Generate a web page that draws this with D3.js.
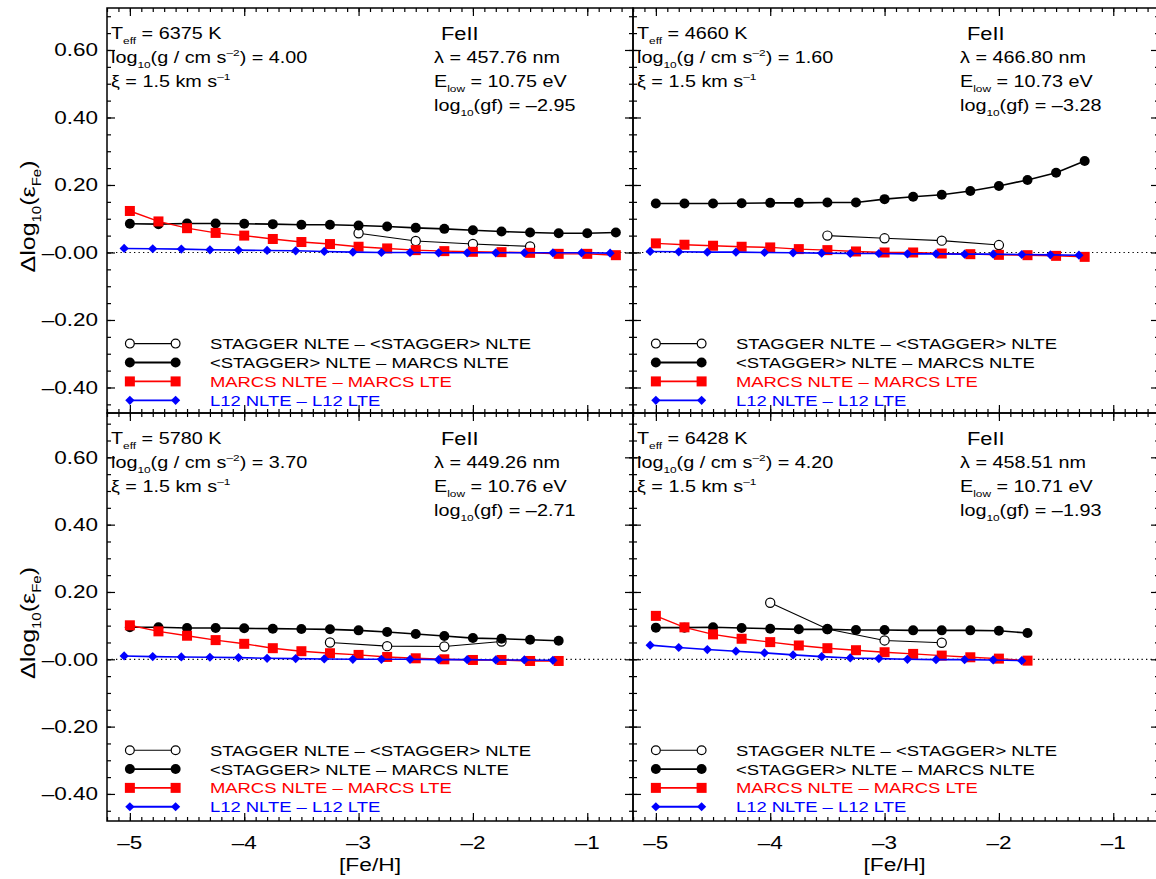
<!DOCTYPE html>
<html><head><meta charset="utf-8">
<script src="https://cdn.jsdelivr.net/npm/d3@7"></script>
<style>
body{margin:0;background:#fff}
svg{display:block}
text{font-family:"Liberation Sans",Arial,Helvetica,sans-serif}
</style>
</head><body>
<svg id="c" width="1156" height="879"></svg>
<script>
// ---------- data ----------
const fehGrid = [-5.00,-4.75,-4.50,-4.25,-4.00,-3.75,-3.50,-3.25,-3.00,-2.75,-2.50,-2.25,-2.00,-1.75,-1.50,-1.25,-1.00,-0.75];
const fehL12  = [-5.05,-4.80,-4.55,-4.30,-4.05,-3.80,-3.55,-3.30,-3.05,-2.80,-2.55,-2.30,-2.05,-1.80,-1.55,-1.30,-1.05,-0.80];

const seriesLabels = ["STAGGER NLTE \u2013 <STAGGER> NLTE","<STAGGER> NLTE \u2013 MARCS NLTE","MARCS NLTE \u2013 MARCS LTE","L12 NLTE \u2013 L12 LTE"];
const seriesColors = ["#000000","#000000","#ff0000","#0000ff"];

const teffs   = ["6375","4660","5780","6428"];
const loggs   = ["4.00","1.60","3.70","4.20"];
const lambdas = ["457.76","466.80","449.26","458.51"];
const elows   = ["10.75","10.73","10.76","10.71"];
const loggfs  = ["\u20132.95","\u20133.28","\u20132.71","\u20131.93"];

// panel A: Teff 6375
const aStaggerX = [-3.00,-2.50,-2.00,-1.50];
const aStagger  = [0.057,0.034,0.025,0.018];
const aMean  = [0.085,0.084,0.086,0.086,0.085,0.084,0.082,0.082,0.080,0.077,0.073,0.070,0.066,0.062,0.059,0.057,0.057,0.059];
const aMarcs = [0.123,0.092,0.072,0.058,0.050,0.040,0.031,0.025,0.017,0.012,0.007,0.004,0.002,0.001,-0.001,-0.004,-0.004,-0.008];
const aL12   = [0.012,0.011,0.010,0.008,0.007,0.006,0.005,0.003,0.001,0.000,0.000,-0.001,-0.001,-0.001,-0.001,-0.001,-0.001,-0.002];
// panel B: Teff 4660
const bStaggerX = [-3.50,-3.00,-2.50,-2.00];
const bStagger  = [0.050,0.042,0.035,0.022];
const bMean  = [0.145,0.145,0.145,0.146,0.147,0.147,0.148,0.148,0.158,0.165,0.171,0.182,0.197,0.215,0.236,0.271];
const bMarcs = [0.027,0.023,0.020,0.017,0.015,0.010,0.007,0.003,0.000,0.000,-0.003,-0.005,-0.007,-0.008,-0.010,-0.013];
const bL12   = [0.003,0.002,0.001,0.001,0.000,-0.001,-0.002,-0.003,-0.003,-0.004,-0.004,-0.005,-0.005,-0.006,-0.007,-0.008];
// panel C: Teff 5780
const cStaggerX = [-3.25,-2.75,-2.25,-1.75];
const cStagger  = [0.050,0.039,0.038,0.053];
const cMean  = [0.095,0.095,0.093,0.093,0.092,0.091,0.090,0.089,0.086,0.081,0.075,0.069,0.063,0.061,0.058,0.055];
const cMarcs = [0.101,0.083,0.070,0.057,0.046,0.033,0.024,0.018,0.013,0.007,0.003,0.000,-0.002,-0.002,-0.005,-0.005];
const cL12   = [0.010,0.008,0.007,0.006,0.005,0.003,0.002,0.001,0.000,0.000,0.000,-0.001,-0.001,-0.002,-0.002,-0.003];
// panel D: Teff 6428
const dStaggerX = [-4.00,-3.50,-3.00,-2.50];
const dStagger  = [0.168,0.090,0.056,0.049];
const dMean  = [0.094,0.094,0.095,0.093,0.091,0.089,0.089,0.087,0.087,0.086,0.086,0.086,0.085,0.078];
const dMarcs = [0.129,0.095,0.074,0.061,0.051,0.041,0.033,0.027,0.021,0.016,0.011,0.006,0.002,-0.004];
const dL12   = [0.042,0.035,0.029,0.024,0.019,0.013,0.008,0.004,0.002,0.000,-0.001,-0.001,-0.002,-0.004];

const xTickValues = [-5,-4,-3,-2,-1];
const yTickValues = [0.6,0.4,0.2,0,-0.2,-0.4];
const legendY = [-0.27,-0.326,-0.382,-0.438];

// ---------- layout ----------
const svg = d3.select("#c");
const SX = 1.2; // horizontal stretch of the glyphs
const panels = [
  {i:0, x0:107, x1:633,  y0:8,   y1:413, yd:[-0.4756,0.7244], sX:aStaggerX, s:aStagger, m:aMean, r:aMarcs, l:aL12, yLabels:true,  xLabels:false},
  {i:1, x0:633, x1:1159, y0:8,   y1:413, yd:[-0.4756,0.7244], sX:bStaggerX, s:bStagger, m:bMean, r:bMarcs, l:bL12, yLabels:false, xLabels:false},
  {i:2, x0:107, x1:633,  y0:413, y1:821, yd:[-0.4804,0.7317], sX:cStaggerX, s:cStagger, m:cMean, r:cMarcs, l:cL12, yLabels:true,  xLabels:true},
  {i:3, x0:633, x1:1159, y0:413, y1:821, yd:[-0.4804,0.7317], sX:dStaggerX, s:dStagger, m:dMean, r:dMarcs, l:dL12, yLabels:false, xLabels:true}
];

function rich(parent, x, y, parts, o={}) {
  const size = o.size || 16, sx = o.sx || SX, rot = o.rotate || 0;
  const t = parent.append("text")
    .attr("transform", `translate(${x},${y}) rotate(${rot}) scale(${sx},1)`)
    .attr("font-size", size)
    .attr("text-anchor", o.anchor || "start")
    .attr("fill", o.fill || "#000");
  let shift = 0;
  parts.forEach(p => {
    const [s, k] = typeof p === "string" ? [p, "n"] : p;
    const target = k === "sub" ? size*0.28 : k === "sup" ? -size*0.42 : 0;
    t.append("tspan").text(s).attr("dy", target - shift)
      .attr("font-size", k === "n" ? size : size*0.6);
    shift = target;
  });
  return t;
}

function diamond(r){ return `M0,${-r}L${r},0L0,${r}L${-r},0Z`; }

const fmtY = d => (d <= 0 ? "\u2013" : "") + Math.abs(d).toFixed(2);

panels.forEach(p => {
  const x = d3.scaleLinear().domain([-5.2,-0.6]).range([p.x0, p.x1]);
  const y = d3.scaleLinear().domain(p.yd).range([p.y1, p.y0]);
  const g = svg.append("g");

  // zero line (dotted)
  g.append("line").attr("x1", p.x0).attr("x2", p.x1).attr("y1", y(0)).attr("y2", y(0))
    .attr("stroke", "#000").attr("stroke-width", 1.2).attr("stroke-dasharray", "1.3,3.2");

  // axes ticks
  const xMinor = d3.range(-5.2, -0.59, 0.1).map(v => +v.toFixed(2));
  const yMinor = d3.range(-0.45, 0.71, 0.05).map(v => +v.toFixed(2));
  const mk = (axis, tr) => g.append("g").attr("transform", tr).call(axis)
      .call(s => s.select(".domain").remove())
      .call(s => s.selectAll("line").attr("stroke", "#000").attr("stroke-width", 1.2));
  // minor
  mk(d3.axisBottom(x).tickValues(xMinor).tickSize(-4).tickFormat(""), `translate(0,${p.y1})`);
  mk(d3.axisTop(x).tickValues(xMinor).tickSize(-4).tickFormat(""), `translate(0,${p.y0})`);
  mk(d3.axisLeft(y).tickValues(yMinor).tickSize(-4).tickFormat(""), `translate(${p.x0},0)`);
  mk(d3.axisRight(y).tickValues(yMinor).tickSize(-4).tickFormat(""), `translate(${p.x1},0)`);
  // major
  mk(d3.axisBottom(x).tickValues(xTickValues).tickSize(-8).tickFormat(""), `translate(0,${p.y1})`);
  mk(d3.axisTop(x).tickValues(xTickValues).tickSize(-8).tickFormat(""), `translate(0,${p.y0})`);
  mk(d3.axisLeft(y).tickValues(yTickValues).tickSize(-8).tickFormat(""), `translate(${p.x0},0)`);
  mk(d3.axisRight(y).tickValues(yTickValues).tickSize(-8).tickFormat(""), `translate(${p.x1},0)`);

  // frame
  g.append("rect").attr("x", p.x0).attr("y", p.y0).attr("width", p.x1-p.x0).attr("height", p.y1-p.y0)
    .attr("fill", "none").attr("stroke", "#000").attr("stroke-width", 1.5);

  // tick labels
  if (p.yLabels) {
    yTickValues.forEach(v => rich(g, p.x0-9, y(v)+6.5, [fmtY(v)], {size:18, anchor:"end", sx:1.25}));
    rich(g, 35, (p.y0+p.y1)/2 + 6, ["\u0394log", ["10","sub"], "(\u03b5", ["Fe","sub"], ")"], {size:20, anchor:"middle", rotate:-90, sx:1.25});
  }
  if (p.xLabels) {
    xTickValues.forEach(v => rich(g, x(v), 849, ["\u2013" + Math.abs(v)], {size:18, anchor:"middle", sx:1.25}));
    rich(g, (p.x0 + Math.min(p.x1,1156))/2, 871, ["[Fe/H]"], {size:19, anchor:"middle", sx:1.2});
  }

  // series
  const line = d3.line().x(d => x(d[0])).y(d => y(d[1]));
  const sPts = p.sX.map((v,i) => [v, p.s[i]]);
  const mPts = p.m.map((v,i) => [fehGrid[i], v]);
  const rPts = p.r.map((v,i) => [fehGrid[i], v]);
  const lPts = p.l.map((v,i) => [fehL12[i], v]);

  g.append("path").attr("d", line(sPts)).attr("fill","none").attr("stroke","#000").attr("stroke-width",1.1);
  g.selectAll(null).data(sPts).join("circle").attr("cx", d=>x(d[0])).attr("cy", d=>y(d[1])).attr("r",4.6)
    .attr("fill","#fff").attr("stroke","#000").attr("stroke-width",1.2);

  g.append("path").attr("d", line(mPts)).attr("fill","none").attr("stroke","#000").attr("stroke-width",1.6);
  g.selectAll(null).data(mPts).join("circle").attr("cx", d=>x(d[0])).attr("cy", d=>y(d[1])).attr("r",5).attr("fill","#000");

  g.append("path").attr("d", line(rPts)).attr("fill","none").attr("stroke","#ff0000").attr("stroke-width",1.4);
  g.selectAll(null).data(rPts).join("rect").attr("x", d=>x(d[0])-5).attr("y", d=>y(d[1])-5).attr("width",10).attr("height",10).attr("fill","#ff0000");

  g.append("path").attr("d", line(lPts)).attr("fill","none").attr("stroke","#0000ff").attr("stroke-width",1.6);
  g.selectAll(null).data(lPts).join("path").attr("transform", d=>`translate(${x(d[0])},${y(d[1])})`).attr("d", diamond(4.6)).attr("fill","#0000ff");

  // legend
  legendY.forEach((ly, k) => {
    const yy = y(ly), xa = x(-5), xb = x(-4.6);
    g.append("line").attr("x1", xa).attr("x2", xb).attr("y1", yy).attr("y2", yy)
      .attr("stroke", seriesColors[k]).attr("stroke-width", k===0 ? 1.1 : 1.8);
    [xa, xb].forEach(cx => {
      if (k === 0) g.append("circle").attr("cx", cx).attr("cy", yy).attr("r", 4.4).attr("fill","#fff").attr("stroke","#000").attr("stroke-width",1.2);
      if (k === 1) g.append("circle").attr("cx", cx).attr("cy", yy).attr("r", 5).attr("fill","#000");
      if (k === 2) g.append("rect").attr("x", cx-5).attr("y", yy-5).attr("width",10).attr("height",10).attr("fill","#ff0000");
      if (k === 3) g.append("path").attr("transform", `translate(${cx},${yy})`).attr("d", diamond(4.6)).attr("fill","#0000ff");
    });
    rich(g, x(-4.3), yy + 5.5, [seriesLabels[k]], {size:15.5, fill: seriesColors[k], sx:1.19});
  });

  // annotations
  const lx = p.x0 + 4, rx = p.x0 + 327, by = p.y0;
  rich(g, lx, by+31, ["T", ["eff","sub"], " = " + teffs[p.i] + " K"], {size:16.5});
  rich(g, lx, by+55, ["log", ["10","sub"], "(g / cm s", ["\u20132","sup"], ") = " + loggs[p.i]], {size:16.5});
  rich(g, lx, by+79, ["\u03be = 1.5 km s", ["\u20131","sup"]], {size:16.5});
  rich(g, rx+7, by+32, ["FeII"], {size:19, sx:1.15});
  rich(g, rx, by+55, ["\u03bb = " + lambdas[p.i] + " nm"], {size:16.5});
  rich(g, rx, by+79, ["E", ["low","sub"], " = " + elows[p.i] + " eV"], {size:16.5});
  rich(g, rx, by+103, ["log", ["10","sub"], "(gf) = " + loggfs[p.i]], {size:16.5});
});
</script>
</body></html>
